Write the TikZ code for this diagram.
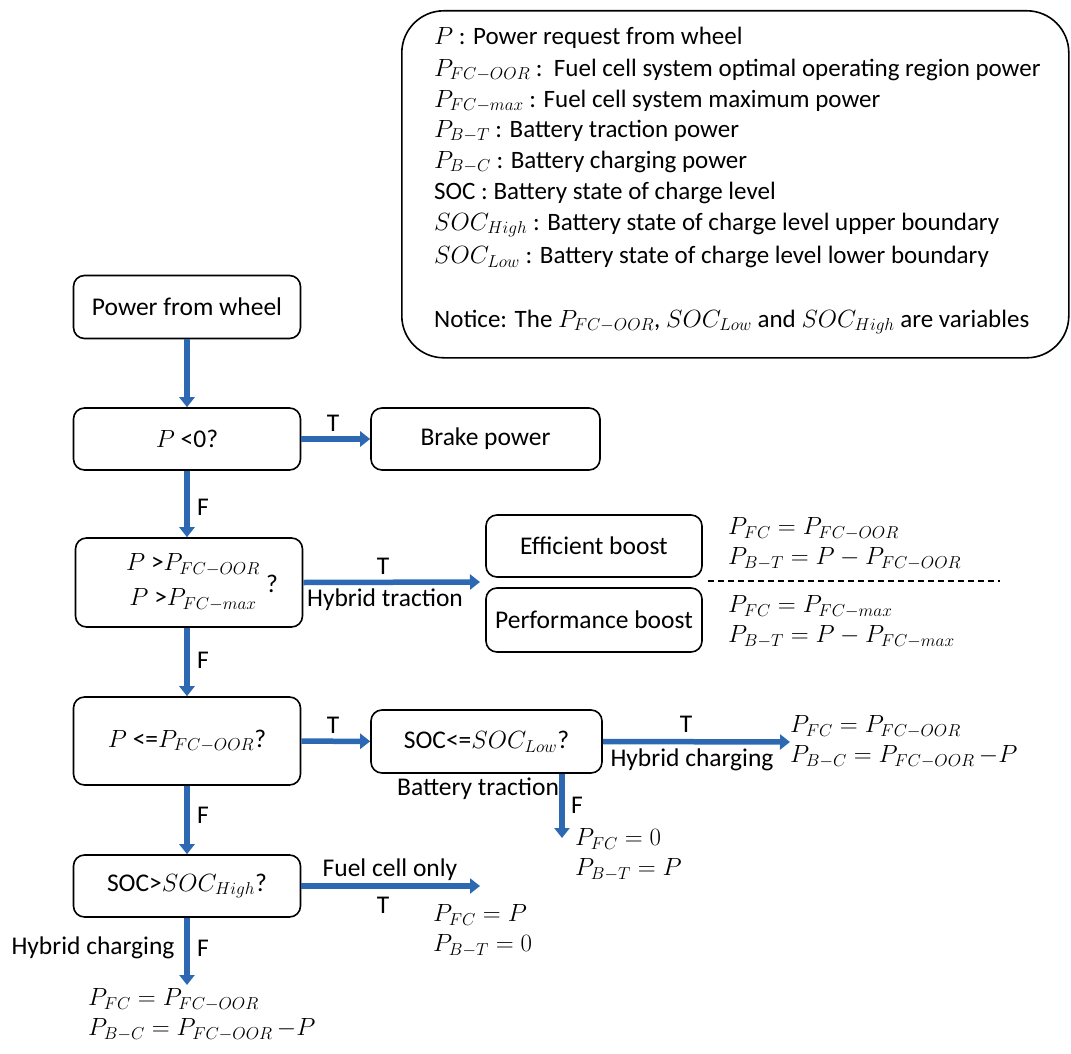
\documentclass[tikz,border=0pt]{standalone}
\usepackage{fontspec}
\setmainfont{Carlito}
\usetikzlibrary{arrows.meta}
\definecolor{flowblue}{RGB}{44,105,178}
\begin{document}
\begin{tikzpicture}[x=1pt,y=-1pt,
  box/.style={draw, line width=1.6pt, rounded corners=11pt, minimum width=227pt, minimum height=62pt, font=\fontsize{25.5}{30}\selectfont, inner sep=0pt},
  flow/.style={draw=flowblue, line width=5.5pt, -{Triangle[length=10pt,width=15pt]}},
  lbl/.style={font=\fontsize{25.5}{30}\selectfont, inner sep=1pt},
  leg/.style={font=\fontsize{25}{30}\selectfont, inner sep=0pt, anchor=west},
  eq/.style={font=\fontsize{23}{30}\selectfont, align=left, inner sep=0pt, anchor=west}]
\useasboundingbox (0,0) rectangle (1071,1054);

% legend
\node[draw, line width=1.6pt, rounded corners=42pt, minimum width=667pt, minimum height=347pt, anchor=north west, inner sep=0pt] (legend) at (401,10) {};
\node[leg] (l1) at (434,38) {$P$ : Power request from wheel};
\node[leg] (l2) at (434,70) {$P_{FC-OOR}$ :\ \ Fuel cell system optimal operating region power};
\node[leg] (l3) at (434,101) {$P_{FC-max}$ : Fuel cell system maximum power};
\node[leg] (l4) at (434,131) {$P_{B-T}$ : Battery traction power};
\node[leg] (l5) at (434,162) {$P_{B-C}$ : Battery charging power};
\node[leg] (l6) at (434,193) {SOC : Battery state of charge level};
\node[leg] (l7) at (434,225) {$SOC_{High}$ : Battery state of charge level upper boundary};
\node[leg] (l8) at (434,257) {$SOC_{Low}$ : Battery state of charge level lower boundary};
\node[leg] (l9) at (434,322) {Notice: The $P_{FC-OOR}$, $SOC_{Low}$ and $SOC_{High}$ are variables};

% main nodes
\node[box, minimum height=63pt] (start) at (187,307) {Power from wheel};
\node[box] (q1) at (187,439) {$P$ <0?};
\node[box, minimum width=229pt] (brake) at (485.5,439) {Brake power};
\node[box, minimum height=89pt] (q2) at (189,582.5) {};
\node[lbl] (q2a) at (193,565) {$P$ >$P_{FC-OOR}$};
\node[lbl] (q2b) at (193,600) {$P$ >$P_{FC-max}$};
\node[lbl] (q2q) at (272,584) {?};
\node[box, minimum width=216pt] (eff) at (594,546) {Efficient boost};
\node[box, minimum width=216pt, minimum height=64pt] (perf) at (594,620) {Performance boost};
\node[box, minimum height=88pt] (q3) at (187,741) {$P$ <=$P_{FC-OOR}$?};
\node[box, minimum width=231pt, minimum height=63pt] (q5) at (486.5,741.5) {SOC<=$SOC_{Low}$?};
\node[box] (q6) at (187,886) {SOC>$SOC_{High}$?};

% equations
\node[eq] (e1) at (728,544) {$P_{FC}=P_{FC-OOR}$\\$P_{B-T}=P-P_{FC-OOR}$};
\node[eq] (e2) at (728,622) {$P_{FC}=P_{FC-max}$\\$P_{B-T}=P-P_{FC-max}$};
\node[eq] (e3) at (790,742) {$P_{FC}=P_{FC-OOR}$\\$P_{B-C}=P_{FC-OOR}\,{-P}$};
\node[eq] (e4) at (575,855) {$P_{FC}=0$\\$P_{B-T}=P$};
\node[eq] (e5) at (433,931) {$P_{FC}=P$\\$P_{B-T}=0$};
\node[eq] (e6) at (88,1015) {$P_{FC}=P_{FC-OOR}$\\$P_{B-C}=P_{FC-OOR}\,{-P}$};

\draw[line width=1.2pt, dash pattern=on 6pt off 4pt] (708,581) -- (1000,581);

% coordinates for free ends
\coordinate (ht) at (480,582);
\coordinate (bt) at (562,838);
\coordinate (fc) at (480,886);
\coordinate (hc) at (187,985);

% connectors
\draw[flow] (start) -- (q1);
\draw[flow] (q1) -- (brake);
\draw[flow] (q1.south) -- (q1.south |- q2.north);
\draw[flow] (q2.east) -- (ht);
\draw[flow] (q2.south -| q1.south) -- (q3.north);
\draw[flow] (q3) -- (q5);
\draw[flow] (q5.east) -- (e3.west);
\draw[flow] (q5.south -| bt) -- (bt);
\draw[flow] (q3) -- (q6);
\draw[flow] (q6.east) -- (fc);
\draw[flow] (q6.south) -- (hc);

% labels
\node[lbl] (t1) at (333,423) {T};
\node[lbl] (f1) at (203,507) {F};
\node[lbl] (t2) at (383,566) {T};
\node[lbl] (h1) at (385,600) {Hybrid traction};
\node[lbl] (f2) at (203,660) {F};
\node[lbl] (t3) at (333,725) {T};
\node[lbl] (t4) at (686,724) {T};
\node[lbl] (h2) at (692,760) {Hybrid charging};
\node[lbl] (b1) at (478,789) {Battery traction};
\node[lbl] (f3) at (577,805) {F};
\node[lbl] (f4) at (203,815) {F};
\node[lbl] (fco) at (390,870) {Fuel cell only};
\node[lbl] (t5) at (383,905) {T};
\node[lbl] (h3) at (93,948) {Hybrid charging};
\node[lbl] (f5) at (203,948) {F};
\end{tikzpicture}
\end{document}
